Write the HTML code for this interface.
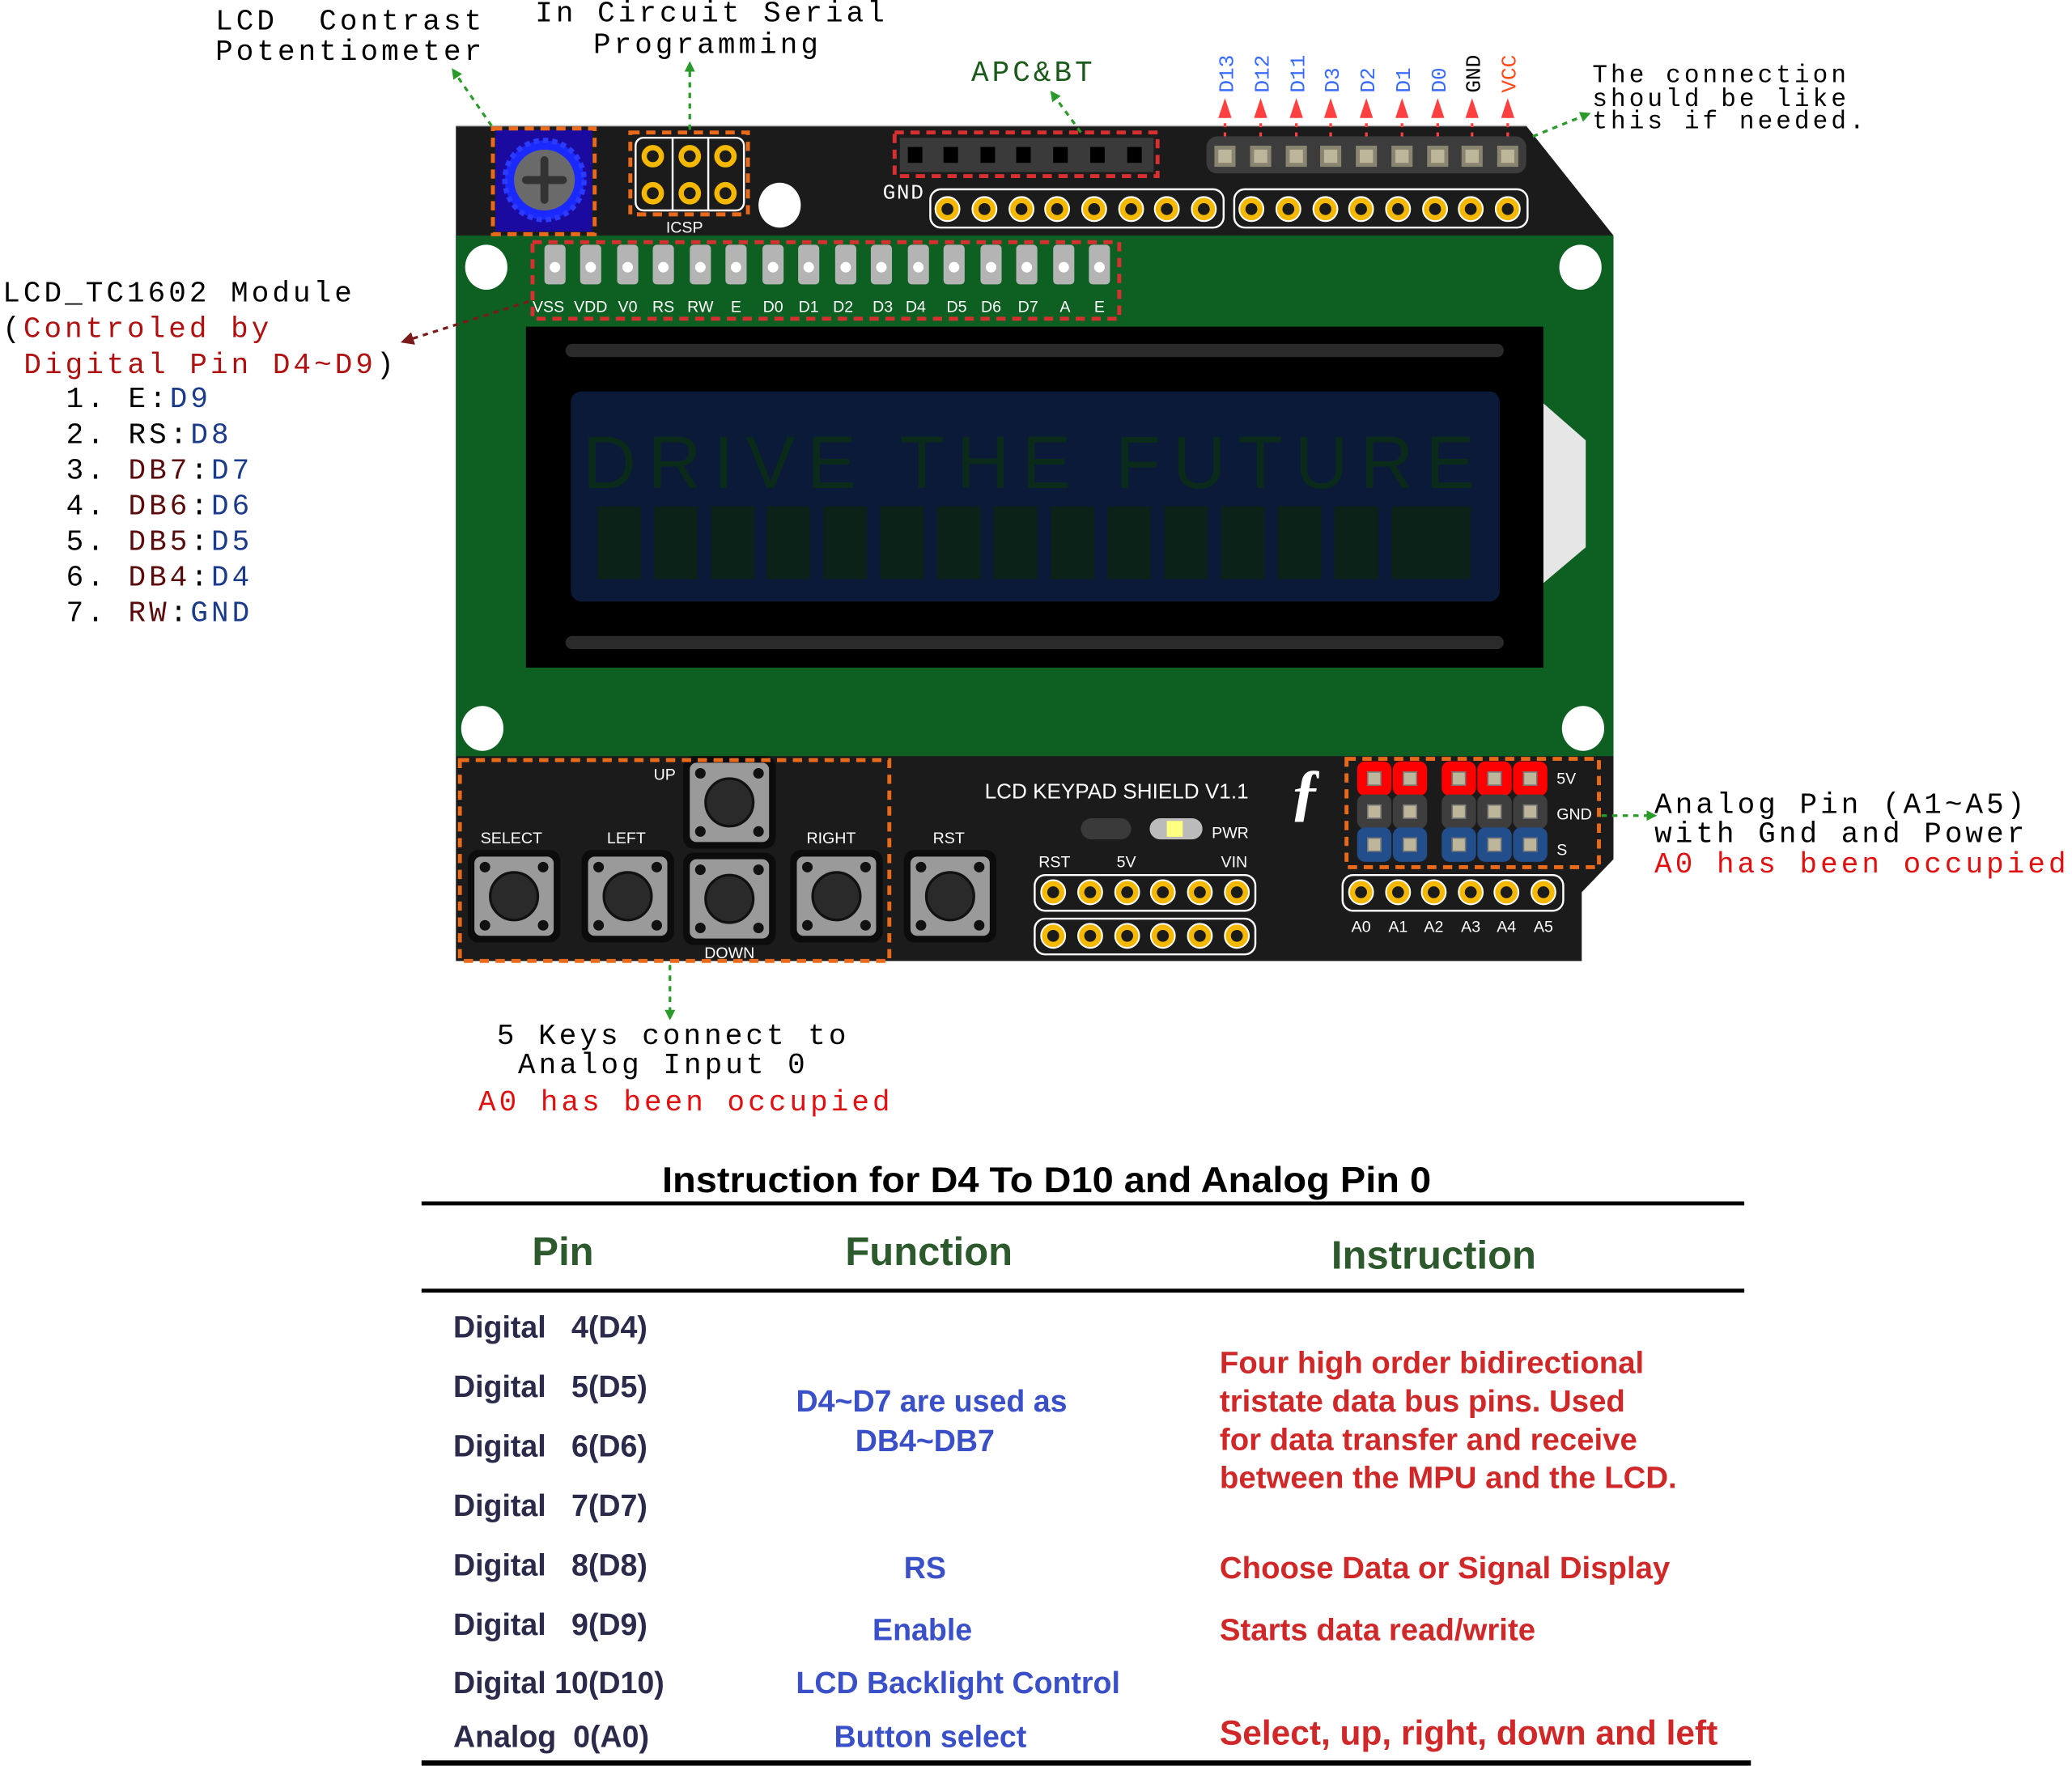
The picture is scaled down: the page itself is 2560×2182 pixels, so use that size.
<!DOCTYPE html>
<html><head><meta charset="utf-8"><style>
html,body{margin:0;padding:0;background:#fff;}
svg{display:block;}
svg text{white-space:pre;}
.m{font-family:"Liberation Mono",monospace;}
.s{font-family:"Liberation Sans",sans-serif;}
</style></head><body>
<svg width="2560" height="2182" viewBox="0 0 1568 1336" xmlns="http://www.w3.org/2000/svg" xml:space="preserve">
<defs>
<g id="ring"><circle r="9" fill="#1b1b1b" stroke="#fff" stroke-width="1.5"/><circle r="6.5" fill="none" stroke="#f5b800" stroke-width="4"/></g>
<g id="pin"><rect x="-8" y="-8" width="16" height="16" fill="#8a8570"/><rect x="-5" y="-5" width="10" height="10" fill="#bdb69a"/></g>
<g id="btn"><rect x="-35" y="-35" width="70" height="70" rx="8" fill="#0c0c0c"/><rect x="-30" y="-30" width="60" height="60" rx="5" fill="#9a9a9a"/><circle r="18" fill="#2a2a2a" stroke="#111" stroke-width="2"/><circle cx="-22" cy="-22" r="4" fill="#111"/><circle cx="22" cy="-22" r="4" fill="#111"/><circle cx="-22" cy="22" r="4" fill="#111"/><circle cx="22" cy="22" r="4" fill="#111"/></g>
<marker id="ag" markerWidth="8" markerHeight="8" refX="6" refY="4" orient="auto" markerUnits="userSpaceOnUse"><path d="M0,0 L8,4 L0,8z" fill="#2a9a2a"/></marker>
<marker id="ar" markerWidth="10" markerHeight="10" refX="7" refY="5" orient="auto" markerUnits="userSpaceOnUse"><path d="M0,0 L10,5 L0,10z" fill="#7a1a1a"/></marker>
</defs>

<polygon points="345,95 1155,95 1221,178 1221,650 1197,675 1197,727 345,727" fill="#1b1b1b"/>
<line x1="345" y1="95" x2="1155" y2="95" stroke="#bbb" stroke-width="1"/>
<rect x="345" y="178" width="876" height="394" fill="#0d5f22"/>
<ellipse cx="368" cy="202" rx="16" ry="17" fill="#fff"/><ellipse cx="1196" cy="202" rx="16" ry="17" fill="#fff"/>
<ellipse cx="365" cy="551" rx="16" ry="17" fill="#fff"/><ellipse cx="1198" cy="551" rx="16" ry="17" fill="#fff"/>
<ellipse cx="590" cy="155" rx="16" ry="17" fill="#fff"/>

<rect x="375" y="98" width="73" height="77" fill="#1a0aa0"/>
<circle cx="412" cy="136" r="30" fill="#1a2aff" stroke="#2a3aff" stroke-width="4" stroke-dasharray="4 3"/>
<circle cx="412" cy="136" r="23" fill="#6a6a6a"/>
<rect x="395" y="133" width="34" height="6" rx="3" fill="#333"/><rect x="409" y="118" width="6" height="36" rx="3" fill="#333"/>
<rect x="373" y="97" width="77" height="80" fill="none" stroke="#e86a1a" stroke-width="3" stroke-dasharray="7 5"/>

<rect x="481" y="104" width="82" height="55" rx="6" fill="#1b1b1b" stroke="#fff" stroke-width="1.5"/>
<line x1="509" y1="104" x2="509" y2="159" stroke="#fff" stroke-width="1.5"/><line x1="536" y1="104" x2="536" y2="159" stroke="#fff" stroke-width="1.5"/>
<g fill="none" stroke="#f5b800" stroke-width="4"><circle cx="494" cy="118" r="6.5"/><circle cx="522" cy="118" r="6.5"/><circle cx="549" cy="118" r="6.5"/><circle cx="494" cy="146" r="6.5"/><circle cx="522" cy="146" r="6.5"/><circle cx="549" cy="146" r="6.5"/></g>
<rect x="477" y="100" width="89" height="62" fill="none" stroke="#e86a1a" stroke-width="3" stroke-dasharray="7 5"/>
<text x="518" y="176" class="s" font-size="12" fill="#fff" text-anchor="middle">ICSP</text>

<rect x="681" y="104" width="192" height="26" fill="#3a3a3a"/>
<g fill="#000"><rect x="687" y="111" width="11" height="12"/><rect x="714" y="111" width="11" height="12"/><rect x="742" y="111" width="11" height="12"/><rect x="769" y="111" width="11" height="12"/><rect x="797" y="111" width="11" height="12"/><rect x="825" y="111" width="11" height="12"/><rect x="853" y="111" width="11" height="12"/></g>
<rect x="677" y="100" width="199" height="33" fill="none" stroke="#d83030" stroke-width="3" stroke-dasharray="7 5"/>
<text x="668" y="150" class="m" font-size="16" fill="#fff" letter-spacing="1">GND</text>

<rect x="704" y="143" width="222" height="29" rx="8" fill="none" stroke="#fff" stroke-width="1.5"/>
<rect x="934" y="143" width="222" height="29" rx="8" fill="none" stroke="#fff" stroke-width="1.5"/>
<use href="#ring" x="717" y="158"/><use href="#ring" x="745" y="158"/><use href="#ring" x="773" y="158"/><use href="#ring" x="800" y="158"/><use href="#ring" x="828" y="158"/><use href="#ring" x="856" y="158"/><use href="#ring" x="883" y="158"/><use href="#ring" x="911" y="158"/>
<use href="#ring" x="947" y="158"/><use href="#ring" x="975" y="158"/><use href="#ring" x="1003" y="158"/><use href="#ring" x="1030" y="158"/><use href="#ring" x="1058" y="158"/><use href="#ring" x="1086" y="158"/><use href="#ring" x="1113" y="158"/><use href="#ring" x="1141" y="158"/>

<rect x="913" y="103" width="242" height="28" rx="8" fill="#3c3c3c"/>
<use href="#pin" x="927" y="118"/><use href="#pin" x="954" y="118"/><use href="#pin" x="981" y="118"/><use href="#pin" x="1007" y="118"/><use href="#pin" x="1034" y="118"/><use href="#pin" x="1061" y="118"/><use href="#pin" x="1088" y="118"/><use href="#pin" x="1114" y="118"/><use href="#pin" x="1141" y="118"/>
<g stroke="#ff4040" stroke-width="2" stroke-dasharray="3 4" fill="none">
<line x1="927" y1="103" x2="927" y2="86"/><line x1="954" y1="103" x2="954" y2="86"/><line x1="981" y1="103" x2="981" y2="86"/><line x1="1007" y1="103" x2="1007" y2="86"/><line x1="1034" y1="103" x2="1034" y2="86"/><line x1="1061" y1="103" x2="1061" y2="86"/><line x1="1088" y1="103" x2="1088" y2="86"/><line x1="1114" y1="103" x2="1114" y2="86"/><line x1="1141" y1="103" x2="1141" y2="86"/>
</g>
<g fill="#ff4040">
<path d="M922,89 L932,89 L927,74z"/><path d="M949,89 L959,89 L954,74z"/><path d="M976,89 L986,89 L981,74z"/><path d="M1002,89 L1012,89 L1007,74z"/><path d="M1029,89 L1039,89 L1034,74z"/><path d="M1056,89 L1066,89 L1061,74z"/><path d="M1083,89 L1093,89 L1088,74z"/><path d="M1109,89 L1119,89 L1114,74z"/><path d="M1136,89 L1146,89 L1141,74z"/>
</g>
<g class="m" font-size="16">
<text transform="translate(933,70) rotate(-90)" fill="#3a6bff">D13</text>
<text transform="translate(960,70) rotate(-90)" fill="#3a6bff">D12</text>
<text transform="translate(987,70) rotate(-90)" fill="#3a6bff">D11</text>
<text transform="translate(1013,70) rotate(-90)" fill="#3a6bff">D3</text>
<text transform="translate(1040,70) rotate(-90)" fill="#3a6bff">D2</text>
<text transform="translate(1067,70) rotate(-90)" fill="#3a6bff">D1</text>
<text transform="translate(1094,70) rotate(-90)" fill="#3a6bff">D0</text>
<text transform="translate(1120,70) rotate(-90)" fill="#000">GND</text>
<text transform="translate(1147,70) rotate(-90)" fill="#ff4a1a">VCC</text>
</g>

<g fill="#b4b4b4">
<rect x="412" y="185" width="16" height="30" rx="3"/><rect x="439" y="185" width="16" height="30" rx="3"/><rect x="467" y="185" width="16" height="30" rx="3"/><rect x="494" y="185" width="16" height="30" rx="3"/><rect x="522" y="185" width="16" height="30" rx="3"/><rect x="549" y="185" width="16" height="30" rx="3"/><rect x="577" y="185" width="16" height="30" rx="3"/><rect x="604" y="185" width="16" height="30" rx="3"/><rect x="632" y="185" width="16" height="30" rx="3"/><rect x="659" y="185" width="16" height="30" rx="3"/><rect x="687" y="185" width="16" height="30" rx="3"/><rect x="714" y="185" width="16" height="30" rx="3"/><rect x="742" y="185" width="16" height="30" rx="3"/><rect x="769" y="185" width="16" height="30" rx="3"/><rect x="797" y="185" width="16" height="30" rx="3"/><rect x="824" y="185" width="16" height="30" rx="3"/>
</g>
<g fill="#fff">
<circle cx="420" cy="202" r="4"/><circle cx="447" cy="202" r="4"/><circle cx="475" cy="202" r="4"/><circle cx="502" cy="202" r="4"/><circle cx="530" cy="202" r="4"/><circle cx="557" cy="202" r="4"/><circle cx="585" cy="202" r="4"/><circle cx="612" cy="202" r="4"/><circle cx="640" cy="202" r="4"/><circle cx="667" cy="202" r="4"/><circle cx="695" cy="202" r="4"/><circle cx="722" cy="202" r="4"/><circle cx="750" cy="202" r="4"/><circle cx="777" cy="202" r="4"/><circle cx="805" cy="202" r="4"/><circle cx="832" cy="202" r="4"/>
</g>
<g class="s" font-size="12" fill="#fff" text-anchor="middle">
<text x="415" y="236">VSS</text><text x="447" y="236">VDD</text><text x="475" y="236">V0</text><text x="502" y="236">RS</text><text x="530" y="236">RW</text><text x="557" y="236">E</text><text x="585" y="236">D0</text><text x="612" y="236">D1</text><text x="638" y="236">D2</text><text x="668" y="236">D3</text><text x="693" y="236">D4</text><text x="724" y="236">D5</text><text x="750" y="236">D6</text><text x="778" y="236">D7</text><text x="806" y="236">A</text><text x="832" y="236">E</text>
</g>
<rect x="403" y="183" width="444" height="58" fill="none" stroke="#d83030" stroke-width="3" stroke-dasharray="7 5"/>

<rect x="398" y="247" width="770" height="258" fill="#000"/>
<rect x="428" y="260" width="710" height="10" rx="5" fill="#2a2a2a"/>
<rect x="428" y="481" width="710" height="10" rx="5" fill="#2a2a2a"/>
<rect x="432" y="296" width="703" height="159" rx="8" fill="#0a1a38"/>
<text x="783" y="369" class="s" font-size="56" fill="#0a2a1a" text-anchor="middle" letter-spacing="9">DRIVE THE FUTURE</text>
<g fill="#0a2218">
<rect x="452" y="383" width="33" height="55"/><rect x="495" y="383" width="33" height="55"/><rect x="538" y="383" width="33" height="55"/><rect x="580" y="383" width="33" height="55"/><rect x="623" y="383" width="33" height="55"/><rect x="666" y="383" width="33" height="55"/><rect x="709" y="383" width="33" height="55"/><rect x="752" y="383" width="33" height="55"/><rect x="795" y="383" width="33" height="55"/><rect x="838" y="383" width="33" height="55"/><rect x="881" y="383" width="33" height="55"/><rect x="924" y="383" width="33" height="55"/><rect x="967" y="383" width="33" height="55"/><rect x="1010" y="383" width="33" height="55"/><rect x="1053" y="383" width="33" height="55"/><rect x="1080" y="383" width="33" height="55"/>
</g>
<polygon points="1168,305 1200,333 1200,414 1168,441" fill="#e6e6e6"/>

<use href="#btn" x="389" y="678"/><use href="#btn" x="475" y="678"/><use href="#btn" x="552" y="607"/><use href="#btn" x="552" y="680"/><use href="#btn" x="633" y="678"/><use href="#btn" x="719" y="678"/>
<g class="s" font-size="12" fill="#fff" text-anchor="middle">
<text x="387" y="638">SELECT</text><text x="474" y="638">LEFT</text><text x="503" y="590">UP</text><text x="629" y="638">RIGHT</text><text x="718" y="638">RST</text><text x="552" y="725">DOWN</text>
</g>
<rect x="348" y="575" width="325" height="152" fill="none" stroke="#e86a1a" stroke-width="3" stroke-dasharray="7 5"/>

<text x="845" y="604" class="s" font-size="16" fill="#fff" text-anchor="middle">LCD KEYPAD SHIELD V1.1</text>
<rect x="818" y="619" width="38" height="16" rx="8" fill="#3a3a3a"/>
<rect x="870" y="619" width="40" height="16" rx="8" fill="#bbb"/><rect x="883" y="621" width="12" height="12" fill="#ffff80"/>
<text x="917" y="634" class="s" font-size="12" fill="#fff">PWR</text>
<g class="s" font-size="12" fill="#fff"><text x="786" y="656">RST</text><text x="845" y="656">5V</text><text x="924" y="656">VIN</text></g>
<rect x="783" y="662" width="167" height="27" rx="8" fill="none" stroke="#fff" stroke-width="1.5"/>
<rect x="783" y="695" width="167" height="27" rx="8" fill="none" stroke="#fff" stroke-width="1.5"/>
<use href="#ring" x="797" y="675"/><use href="#ring" x="825" y="675"/><use href="#ring" x="853" y="675"/><use href="#ring" x="880" y="675"/><use href="#ring" x="908" y="675"/><use href="#ring" x="936" y="675"/>
<use href="#ring" x="797" y="708"/><use href="#ring" x="825" y="708"/><use href="#ring" x="853" y="708"/><use href="#ring" x="880" y="708"/><use href="#ring" x="908" y="708"/><use href="#ring" x="936" y="708"/>
<text x="988" y="615" font-family="Liberation Serif,serif" font-size="48" font-style="italic" font-weight="bold" fill="#fff" text-anchor="middle">ƒ</text>

<g>
<rect x="1027" y="576" width="26" height="26" rx="6" fill="#ff0000"/><rect x="1054" y="576" width="26" height="26" rx="6" fill="#ff0000"/><rect x="1091" y="576" width="26" height="26" rx="6" fill="#ff0000"/><rect x="1118" y="576" width="26" height="26" rx="6" fill="#ff0000"/><rect x="1145" y="576" width="26" height="26" rx="6" fill="#ff0000"/>
<rect x="1027" y="601" width="26" height="26" rx="6" fill="#3e3e3e"/><rect x="1054" y="601" width="26" height="26" rx="6" fill="#3e3e3e"/><rect x="1091" y="601" width="26" height="26" rx="6" fill="#3e3e3e"/><rect x="1118" y="601" width="26" height="26" rx="6" fill="#3e3e3e"/><rect x="1145" y="601" width="26" height="26" rx="6" fill="#3e3e3e"/>
<rect x="1027" y="626" width="26" height="26" rx="6" fill="#234e8c"/><rect x="1054" y="626" width="26" height="26" rx="6" fill="#234e8c"/><rect x="1091" y="626" width="26" height="26" rx="6" fill="#234e8c"/><rect x="1118" y="626" width="26" height="26" rx="6" fill="#234e8c"/><rect x="1145" y="626" width="26" height="26" rx="6" fill="#234e8c"/>
</g>
<g fill="#bdb69a" stroke="#777" stroke-width="1">
<rect x="1035" y="584" width="10" height="10"/><rect x="1062" y="584" width="10" height="10"/><rect x="1099" y="584" width="10" height="10"/><rect x="1126" y="584" width="10" height="10"/><rect x="1153" y="584" width="10" height="10"/>
<rect x="1035" y="609" width="10" height="10"/><rect x="1062" y="609" width="10" height="10"/><rect x="1099" y="609" width="10" height="10"/><rect x="1126" y="609" width="10" height="10"/><rect x="1153" y="609" width="10" height="10"/>
<rect x="1035" y="634" width="10" height="10"/><rect x="1062" y="634" width="10" height="10"/><rect x="1099" y="634" width="10" height="10"/><rect x="1126" y="634" width="10" height="10"/><rect x="1153" y="634" width="10" height="10"/>
</g>
<g class="s" font-size="12" fill="#fff"><text x="1178" y="593">5V</text><text x="1178" y="620">GND</text><text x="1178" y="647">S</text></g>
<rect x="1019" y="574" width="191" height="82" fill="none" stroke="#e86a1a" stroke-width="3" stroke-dasharray="7 5"/>
<rect x="1016" y="662" width="167" height="27" rx="8" fill="none" stroke="#fff" stroke-width="1.5"/>
<use href="#ring" x="1030" y="675"/><use href="#ring" x="1058" y="675"/><use href="#ring" x="1085" y="675"/><use href="#ring" x="1113" y="675"/><use href="#ring" x="1140" y="675"/><use href="#ring" x="1168" y="675"/>
<g class="s" font-size="12" fill="#fff" text-anchor="middle"><text x="1030" y="705">A0</text><text x="1058" y="705">A1</text><text x="1085" y="705">A2</text><text x="1113" y="705">A3</text><text x="1140" y="705">A4</text><text x="1168" y="705">A5</text></g>

<g stroke="#2a9a2a" stroke-width="2" stroke-dasharray="4 4" fill="none">
<line x1="372" y1="95" x2="343" y2="53" marker-end="url(#ag)"/>
<line x1="522" y1="98" x2="522" y2="48" marker-end="url(#ag)"/>
<line x1="818" y1="100" x2="796" y2="70" marker-end="url(#ag)"/>
<line x1="1160" y1="103" x2="1202" y2="86" marker-end="url(#ag)"/>
<line x1="1212" y1="617" x2="1252" y2="617" marker-end="url(#ag)"/>
<line x1="507" y1="730" x2="507" y2="770" marker-end="url(#ag)"/>
</g>
<line x1="400" y1="228" x2="306" y2="258" stroke="#7a1a1a" stroke-width="2" stroke-dasharray="4 4" marker-end="url(#ar)"/>

<g class="m" font-size="22" letter-spacing="2.5">
<text x="163" y="22" fill="#000">LCD  Contrast</text>
<text x="163" y="45" fill="#000">Potentiometer</text>
<text x="405" y="16" fill="#000">In Circuit Serial</text>
<text x="449" y="40" fill="#000">Programming</text>
<text x="735" y="61" fill="#1a5a1a">APC&amp;BT</text>
<text x="1205" y="62" fill="#000" font-size="19">The connection</text>
<text x="1205" y="80" fill="#000" font-size="19">should be like</text>
<text x="1205" y="97" fill="#000" font-size="19">this if needed.</text>
<text x="2" y="228" fill="#000">LCD_TC1602 Module</text>
<text x="2" y="255" fill="#000">(<tspan fill="#b01010">Controled by</tspan></text>
<text x="18" y="282" fill="#b01010">Digital Pin D4~D9<tspan fill="#000">)</tspan></text>
<text x="50" y="308" fill="#000">1. E:<tspan fill="#1a3a8a">D9</tspan></text>
<text x="50" y="335" fill="#000">2. RS:<tspan fill="#1a3a8a">D8</tspan></text>
<text x="50" y="362" fill="#000">3. <tspan fill="#5a0a0a">DB7</tspan>:<tspan fill="#1a3a8a">D7</tspan></text>
<text x="50" y="389" fill="#000">4. <tspan fill="#5a0a0a">DB6</tspan>:<tspan fill="#1a3a8a">D6</tspan></text>
<text x="50" y="416" fill="#000">5. <tspan fill="#5a0a0a">DB5</tspan>:<tspan fill="#1a3a8a">D5</tspan></text>
<text x="50" y="443" fill="#000">6. <tspan fill="#5a0a0a">DB4</tspan>:<tspan fill="#1a3a8a">D4</tspan></text>
<text x="50" y="470" fill="#000">7. <tspan fill="#5a0a0a">RW</tspan>:<tspan fill="#1a3a8a">GND</tspan></text>
<text x="1252" y="615" fill="#000">Analog Pin (A1~A5)</text>
<text x="1252" y="637" fill="#000">with Gnd and Power</text>
<text x="1252" y="660" fill="#e01010">A0 has been occupied</text>
<text x="376" y="790" fill="#000">5 Keys connect to</text>
<text x="392" y="812" fill="#000">Analog Input 0</text>
<text x="362" y="840" fill="#e01010">A0 has been occupied</text>
</g>

<text x="792" y="902" class="s" font-size="27" font-weight="bold" fill="#000" text-anchor="middle" textLength="582" lengthAdjust="spacingAndGlyphs">Instruction for D4 To D10 and Analog Pin 0</text>
<rect x="319" y="909" width="1001" height="3" fill="#000"/>
<rect x="319" y="975" width="1001" height="3" fill="#000"/>
<rect x="319" y="1332" width="1006" height="4" fill="#000"/>
<g class="s" font-size="30" font-weight="bold" fill="#2d5a2d" text-anchor="middle">
<text x="426" y="957">Pin</text><text x="703" y="957">Function</text><text x="1085" y="960">Instruction</text>
</g>
<g class="s" font-size="23" font-weight="bold" fill="#2a2a4a">
<text x="343" y="1012">Digital   4(D4)</text>
<text x="343" y="1057">Digital   5(D5)</text>
<text x="343" y="1102">Digital   6(D6)</text>
<text x="343" y="1147">Digital   7(D7)</text>
<text x="343" y="1192">Digital   8(D8)</text>
<text x="343" y="1237">Digital   9(D9)</text>
<text x="343" y="1281">Digital 10(D10)</text>
<text x="343" y="1322">Analog  0(A0)</text>
</g>
<g class="s" font-size="23" font-weight="bold" fill="#3a50c8" text-anchor="middle">
<text x="705" y="1068">D4~D7 are used as</text>
<text x="700" y="1098">DB4~DB7</text>
<text x="700" y="1194">RS</text>
<text x="698" y="1241">Enable</text>
<text x="725" y="1281">LCD Backlight Control</text>
<text x="704" y="1322">Button select</text>
</g>
<g class="s" font-size="23.5" font-weight="bold" fill="#d02828">
<text x="923" y="1039">Four high order bidirectional</text>
<text x="923" y="1068">tristate data bus pins. Used</text>
<text x="923" y="1097">for data transfer and receive</text>
<text x="923" y="1126">between the MPU and the LCD.</text>
<text x="923" y="1194">Choose Data or Signal Display</text>
<text x="923" y="1241">Starts data read/write</text>
<text x="923" y="1320" font-size="26">Select, up, right, down and left</text>
</g>
</svg>
</body></html>
